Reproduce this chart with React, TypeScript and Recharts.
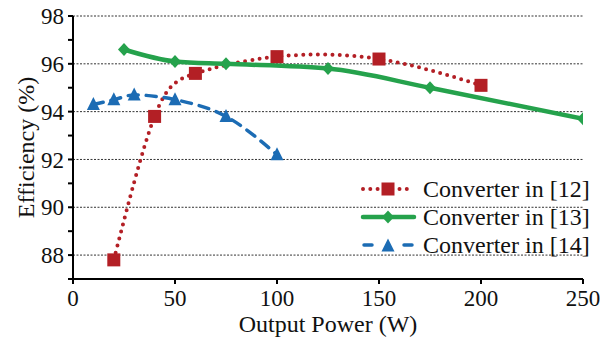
import React from "react";
import { LineChart, Line, XAxis, YAxis, CartesianGrid } from "recharts";

const power12 = [20, 40, 60, 100, 150, 200];
const eff12 = [87.8, 93.8, 95.6, 96.3, 96.2, 95.1];
const power13 = [25, 50, 75, 125, 175, 250];
const eff13 = [96.6, 96.1, 96.0, 95.8, 95.0, 93.7];
const power14 = [10, 20, 30, 50, 75, 100];
const eff14 = [94.3, 94.5, 94.7, 94.5, 93.8, 92.2];

const seriesNames = ["Converter in [12]", "Converter in [13]", "Converter in [14]"];
const xTicks = [0, 50, 100, 150, 200, 250];
const yTicks = [87, 88, 89, 90, 91, 92, 93, 94, 95, 96, 97, 98];
const yGridValues = [88, 90, 92, 94, 96, 98];

const data12 = power12.map((x, i) => ({ x, y: eff12[i] }));
const data13 = power13.map((x, i) => ({ x, y: eff13[i] }));
const data14 = power14.map((x, i) => ({ x, y: eff14[i] }));

const RED = "#B31F25";
const GREEN = "#25A24C";
const BLUE = "#1C6CB4";
const FONT = "'Times New Roman', Times, 'Liberation Serif', 'DejaVu Serif', 'Noto Serif', serif";

const SquareDot = (p: any) => {
  const { cx, cy } = p;
  if (cx == null || cy == null) return null;
  return <rect key={`s${cx}`} x={cx - 6.5} y={cy - 6.5} width={13} height={13} fill={RED} />;
};
const DiamondDot = (p: any) => {
  const { cx, cy } = p;
  if (cx == null || cy == null) return null;
  return (
    <polygon
      key={`d${cx}`}
      points={`${cx},${cy - 6.5} ${cx + 6},${cy} ${cx},${cy + 6.5} ${cx - 6},${cy}`}
      fill={GREEN}
    />
  );
};
const TriangleDot = (p: any) => {
  const { cx, cy } = p;
  if (cx == null || cy == null) return null;
  return (
    <polygon
      key={`t${cx}`}
      points={`${cx},${cy - 7.5} ${cx + 6.5},${cy + 5.5} ${cx - 6.5},${cy + 5.5}`}
      fill={BLUE}
    />
  );
};

const legendStyles = [
  { color: RED, dash: "0 7.3", width: 4 },
  { color: GREEN, dash: undefined, width: 4.5 },
  { color: BLUE, dash: "10 8", width: 3.5 },
];

const LegendBlock = () => (
  <div
    style={{
      position: "absolute",
      left: 360,
      top: 175,
      fontFamily: FONT,
      fontSize: 24,
      color: "#111",
    }}
  >
    {seriesNames.map((name, i) => {
      const s = legendStyles[i];
      return (
        <div key={name} style={{ display: "flex", alignItems: "center", height: 28 }}>
          <svg width={58} height={20} style={{ display: "block" }}>
            {i === 2 ? (
              <>
                <line x1={4} y1={10} x2={12} y2={10} stroke={s.color} strokeWidth={s.width} strokeLinecap="round" />
                <line x1={44} y1={10} x2={52} y2={10} stroke={s.color} strokeWidth={s.width} strokeLinecap="round" />
              </>
            ) : (
              <line
                x1={3}
                y1={10}
                x2={54}
                y2={10}
                stroke={s.color}
                strokeWidth={s.width}
                strokeDasharray={s.dash}
                strokeLinecap="round"
              />
            )}
            {i === 0 && <SquareDot cx={28} cy={10} />}
            {i === 1 && <DiamondDot cx={28} cy={10} />}
            {i === 2 && <TriangleDot cx={28} cy={11} />}
          </svg>
          <span style={{ marginLeft: 5, lineHeight: "28px", whiteSpace: "nowrap" }}>{name}</span>
        </div>
      );
    })}
  </div>
);

export default function App() {
  return (
    <div style={{ position: "absolute", left: 0, top: 0, width: 613, height: 337, background: "#fff" }}>
      <LineChart
        width={613}
        height={337}
        margin={{ top: 16, right: 30, bottom: 0, left: 0 }}
        style={{ fontFamily: FONT }}
      >
        <CartesianGrid
          horizontal={true}
          vertical={false}
          horizontalValues={yGridValues}
          stroke="#333"
          strokeDasharray="2 1.5"
          strokeWidth={1}
        />
        <XAxis
          type="number"
          dataKey="x"
          domain={[0, 250]}
          ticks={xTicks}
          allowDataOverflow
          height={58}
          tickSize={5}
          tickMargin={6}
          stroke="#000"
          strokeWidth={2}
          fontSize={23}
          fontFamily={FONT}
          tick={{ fill: "#111", fontSize: 23, fontFamily: FONT }}
          label={{
            content: (props: any) => {
              const vb = props.viewBox || {};
              const cx = vb.x + vb.width / 2;
              return (
                <text x={cx} y={vb.y + 53} textAnchor="middle" fontSize={24} fontFamily={FONT} fill="#111">
                  Output Power (W)
                </text>
              );
            },
          }}
        />
        <YAxis
          type="number"
          dataKey="y"
          domain={[87, 98]}
          ticks={yTicks}
          interval={0}
          allowDataOverflow
          width={73}
          tickSize={5}
          tickMargin={4}
          stroke="#000"
          strokeWidth={2}
          fontSize={23}
          fontFamily={FONT}
          tick={{ fill: "#111", fontSize: 23, fontFamily: FONT }}
          tickFormatter={(v: number) => (v % 2 === 0 ? String(v) : "")}
          label={{
            content: (props: any) => {
              const vb = props.viewBox || {};
              const cx = vb.x + 26;
              const cy = vb.y + vb.height / 2;
              return (
                <text
                  x={cx}
                  y={cy}
                  transform={`rotate(-90 ${cx} ${cy})`}
                  textAnchor="middle"
                  dominantBaseline="central"
                  fontSize={24}
                  fontFamily={FONT}
                  fill="#111"
                >
                  Efficiency (%)
                </text>
              );
            },
          }}
        />
        <Line
          data={data12}
          dataKey="y"
          name={seriesNames[0]}
          type="natural"
          stroke={RED}
          strokeWidth={4}
          strokeDasharray="0 7.3"
          strokeLinecap="round"
          dot={<SquareDot />}
          activeDot={false}
          isAnimationActive={false}
        />
        <Line
          data={data13}
          dataKey="y"
          name={seriesNames[1]}
          type="monotone"
          stroke={GREEN}
          strokeWidth={4.5}
          dot={<DiamondDot />}
          activeDot={false}
          isAnimationActive={false}
        />
        <Line
          data={data14}
          dataKey="y"
          name={seriesNames[2]}
          type="monotone"
          stroke={BLUE}
          strokeWidth={3.5}
          strokeDasharray="10 8"
          strokeLinecap="round"
          dot={<TriangleDot />}
          activeDot={false}
          isAnimationActive={false}
        />
      </LineChart>
      <LegendBlock />
    </div>
  );
}
